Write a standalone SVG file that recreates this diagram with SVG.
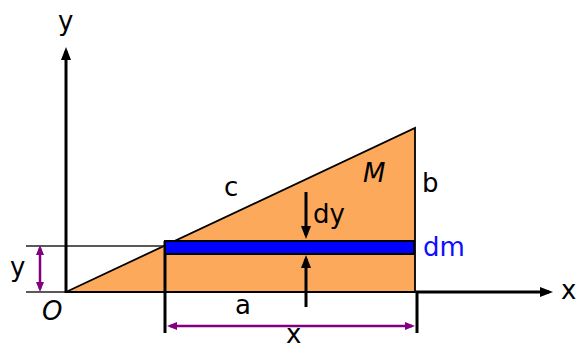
<svg xmlns="http://www.w3.org/2000/svg" width="578" height="349" viewBox="0 0 578 349">
<defs>
<style>
.lbl{font-family:"DejaVu Sans","Liberation Sans",sans-serif;font-size:26px;fill:#000;}
.blue{fill:#1010ff;}
.ax{stroke:#000;stroke-width:3;fill:none;}
.thin{stroke:#222;stroke-width:1.5;fill:none;}
.dim{stroke:#800080;stroke-width:2.5;fill:none;}
</style>
<marker id="ah" markerUnits="userSpaceOnUse" viewBox="0 0 13 10" markerWidth="13" markerHeight="10" refX="9" refY="5" orient="auto">
<path d="M0,0 L13,5 L0,10 z" fill="#000"/>
</marker>
<marker id="pa" markerUnits="userSpaceOnUse" viewBox="0 0 10 8" markerWidth="10" markerHeight="8" refX="7" refY="4" orient="auto-start-reverse">
<path d="M0,0 L10,4 L0,8 z" fill="#800080"/>
</marker>
</defs>
<g id="triangle">
<polygon points="66,292 415,128 415,292" fill="#fca95c" stroke="#000" stroke-width="1.8" stroke-linejoin="miter"/>
</g>
<g id="connectors">
<line class="thin" x1="26" y1="246" x2="165" y2="246"/>
<line class="thin" x1="26" y1="292" x2="66" y2="292"/>
<line class="ax" x1="66" y1="293" x2="66" y2="51" marker-end="url(#ah)"/>
<polyline class="ax" points="417,333 417,292 549,292" marker-end="url(#ah)"/>
<line class="ax" x1="165" y1="241" x2="165" y2="333"/>
<line class="dim" x1="40" y1="248" x2="40" y2="289" marker-start="url(#pa)" marker-end="url(#pa)"/>
<line class="dim" x1="170" y1="326" x2="412" y2="326" marker-start="url(#pa)" marker-end="url(#pa)"/>
<line class="ax" x1="306" y1="192" x2="306" y2="235" marker-end="url(#ah)"/>
<line class="ax" x1="306" y1="307" x2="306" y2="259" marker-end="url(#ah)"/>
</g>
<g id="strip">
<rect x="165" y="241" width="249" height="13" fill="#0000ff" stroke="#000" stroke-width="2"/>
</g>
<g id="labels">
<text class="lbl" x="58" y="30">y</text>
<text class="lbl" x="10" y="276">y</text>
<text class="lbl" x="42" y="320" font-style="italic">O</text>
<text class="lbl" x="235" y="314">a</text>
<text class="lbl" x="286" y="343" font-size="22">x</text>
<text class="lbl" x="224" y="196">c</text>
<text class="lbl" x="313" y="223">dy</text>
<text class="lbl" x="363" y="182" font-style="italic">M</text>
<text class="lbl" x="422" y="192">b</text>
<text class="lbl blue" x="423" y="256">dm</text>
<text class="lbl" x="561" y="299">x</text>
</g>
</svg>
